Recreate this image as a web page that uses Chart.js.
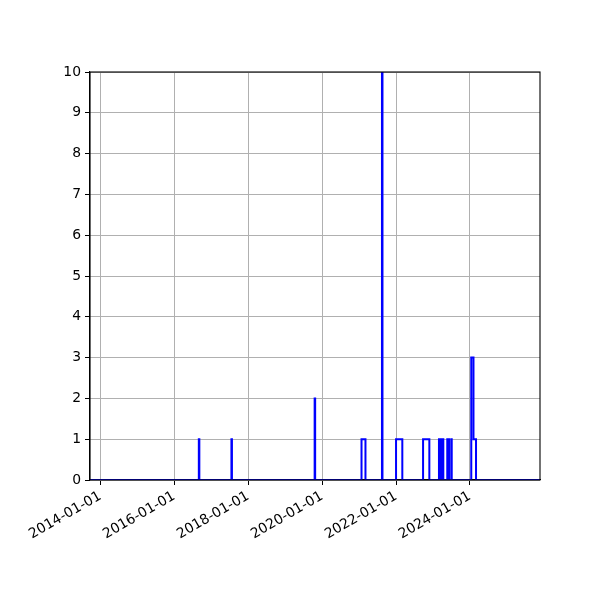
<!DOCTYPE html>
<html>
<head>
<meta charset="utf-8">
<script src="https://cdn.jsdelivr.net/npm/chart.js@4.4.1/dist/chart.umd.min.js"></script>
<style>
  html, body { margin: 0; padding: 0; background: #fff; }
  #wrap { width: 600px; height: 600px; }
</style>
</head>
<body>
<div id="wrap"><canvas id="countChart" width="600" height="600"></canvas></div>
<script>
// change points of the series (value holds until the next date)
const dates = [
  '2013-09-22', '2016-09-01', '2016-09-06', '2017-07-20', '2017-07-25',
  '2019-10-20', '2019-10-25', '2021-01-25', '2021-03-05', '2021-08-15',
  '2021-08-20', '2022-01-01', '2022-03-04', '2022-09-25', '2022-11-26',
  '2023-03-01', '2023-03-20', '2023-04-08', '2023-04-13', '2023-05-22',
  '2023-06-08', '2023-06-30', '2023-07-05', '2024-01-14', '2024-02-05',
  '2024-03-01', '2025-11-23'
];
const counts = [
  0, 1, 0, 1, 0,
  2, 0, 1, 0, 10,
  0, 1, 0, 1, 0,
  1, 0, 1, 0, 1,
  0, 1, 0, 3, 1,
  0, 0
];
const tickDates = ['2014-01-01', '2016-01-01', '2018-01-01', '2020-01-01', '2022-01-01', '2024-01-01'];
const xRange = ['2013-09-22', '2025-11-23'];
const yTicks = [0, 1, 2, 3, 4, 5, 6, 7, 8, 9, 10];

const toMs = d => Date.parse(d + 'T00:00:00Z');
const fmt = v => new Date(v).toISOString().slice(0, 10);

const points = dates.map((d, i) => ({ x: toMs(d), y: counts[i] }));

const frame = {
  id: 'frame',
  afterDraw(chart) {
    const { ctx, chartArea: a } = chart;
    ctx.save();
    ctx.strokeStyle = '#000';
    ctx.lineWidth = 1.1;
    ctx.strokeRect(a.left, a.top, a.right - a.left, a.bottom - a.top);
    ctx.restore();
  }
};

const font = { family: 'DejaVu Sans', size: 13.9 };

new Chart(document.getElementById('countChart'), {
  type: 'line',
  data: {
    datasets: [{
      data: points,
      borderColor: '#0000ff',
      borderWidth: 2,
      stepped: 'before',
      pointRadius: 0,
      fill: false
    }]
  },
  options: {
    responsive: false,
    animation: false,
    layout: { padding: { left: 0, top: 72, right: 60, bottom: 0 } },
    plugins: { legend: { display: false }, tooltip: { enabled: false } },
    scales: {
      x: {
        type: 'linear',
        min: toMs(xRange[0]),
        max: toMs(xRange[1]),
        afterBuildTicks: s => { s.ticks = tickDates.map(d => ({ value: toMs(d) })); },
        afterFit: s => { s.height = 120; },
        grid: { color: '#b0b0b0', lineWidth: 1, tickColor: '#000', tickLength: 5 },
        border: { color: '#000', width: 1.1 },
        ticks: {
          color: '#000',
          font,
          padding: 3,
          minRotation: 30,
          maxRotation: 30,
          autoSkip: false,
          callback: v => fmt(v)
        }
      },
      y: {
        min: 0,
        max: 10,
        afterBuildTicks: s => { s.ticks = yTicks.map(v => ({ value: v })); },
        afterFit: s => { s.width = 90; },
        grid: { color: '#b0b0b0', lineWidth: 1, tickColor: '#000', tickLength: 5 },
        border: { color: '#000', width: 1.1 },
        ticks: { color: '#000', font, padding: 4 }
      }
    }
  },
  plugins: [frame]
});
</script>
</body>
</html>
